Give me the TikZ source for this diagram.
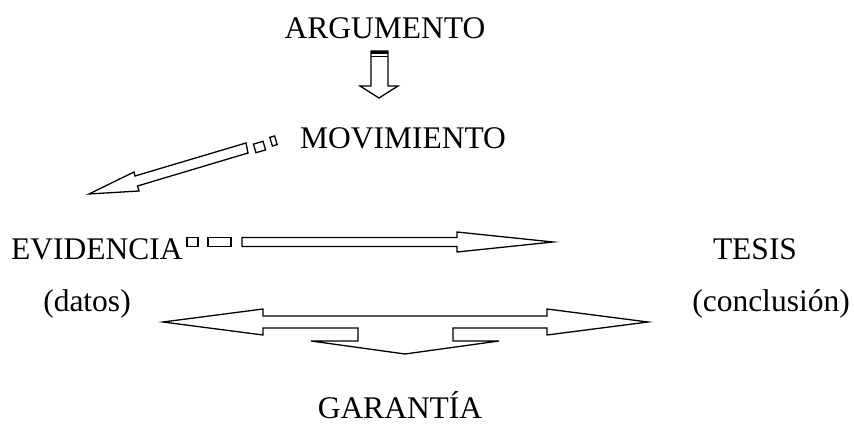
\documentclass[tikz,border=0pt]{standalone}
\usepackage{fontspec}
\setmainfont{Liberation Serif}
\usepackage{tikz}
\tikzstyle{word} = [font=\fontsize{31.5}{36}\selectfont, inner sep=0pt, anchor=base]
\tikzstyle{blockarrow} = [draw, line width=1.3pt, line join=miter, fill=white]
\tikzstyle{tick} = [draw, line width=1.3pt, inner sep=0pt, minimum height=9pt]

\begin{document}
\begin{tikzpicture}[x=1pt, y=-1pt]
          \useasboundingbox (0,0) rectangle (854,427);
          \node[word] at (385,39) (arg) {ARGUMENTO};
          \node[word] at (403,149) (mov) {MOVIMIENTO};
          \node[word, anchor=base west] at (11,260) (evi) {EVIDENCIA};
          \node[word] at (755,260) (tes) {TESIS};
          \node[word] at (87,312) (dat) {(datos)};
          \node[word] at (771,312) (con) {(conclusi\'on)};
          \node[word] at (400,418) (gar) {GARANT\'IA};

          \draw[blockarrow] (371,51) -- (388,51) -- (388,86) -- (398,86) -- (379,98)
            -- (360,86) -- (371,86) -- cycle;
          \fill (371,51) rectangle (388,54);
          \draw[line width=1.3pt] (371,56.5) -- (388,56.5);

          \draw[blockarrow] (89,194) -- (134,172) -- (135,176) -- (246,143) -- (248,153)
            -- (137.5,186) -- (139,191) -- cycle;
          \node[tick, rotate=16.6, minimum width=10pt] at (259.5,147) (d1) {};
          \node[tick, rotate=16.6, minimum width=5pt] at (273.5,141) (d2) {};

          \draw[blockarrow] (242,237.5) -- (457,237.5) -- (457,232) -- (553,242) -- (457,252)
            -- (457,246.5) -- (242,246.5) -- cycle;
          \node[tick, minimum width=11pt] at (192.5,242) (h1) {};
          \node[tick, minimum width=23pt] at (219.5,242) (h2) {};

          \draw[blockarrow] (163,322) -- (263,309) -- (263,316) -- (547,316) -- (547,309)
            -- (648,322) -- (547,335) -- (547,328) -- (453,328) -- (453,341) -- (499,341)
            -- (405,354) -- (311,341) -- (358,341) -- (358,328) -- (263,328) -- (263,335) -- cycle;
        \end{tikzpicture}
\end{document}
